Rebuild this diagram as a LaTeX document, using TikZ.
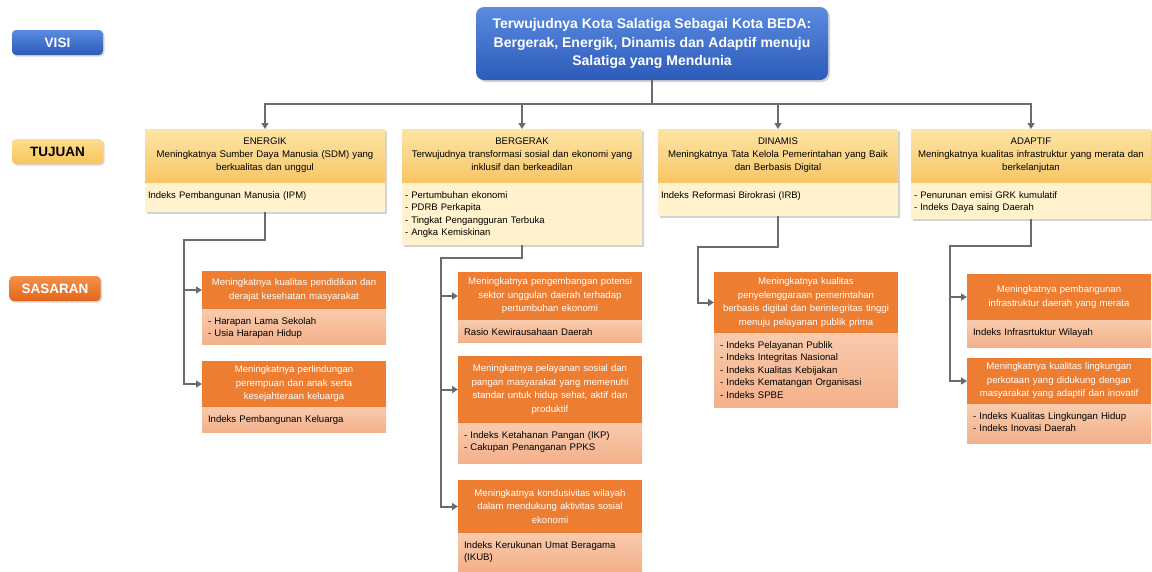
\documentclass[tikz,border=0pt]{standalone}
\usepackage{fontspec}
\setmainfont{Liberation Sans}
\usetikzlibrary{positioning,shadows,arrows.meta}

\definecolor{visibot}{HTML}{2C5BBA}
\definecolor{visitop}{HTML}{5A8BE0}
\definecolor{tjtop}{HTML}{FDE4A6}
\definecolor{tjbot}{HTML}{F8C666}
\definecolor{tjlbltop}{HTML}{FDDD8E}
\definecolor{tjlblbot}{HTML}{F9C45C}
\definecolor{tjfill}{HTML}{FFF2CC}
\definecolor{ssorange}{HTML}{ED7D31}
\definecolor{sstop}{HTML}{F4914B}
\definecolor{ssbot}{HTML}{E2661B}
\definecolor{ssbodytop}{HTML}{F8CBAD}
\definecolor{ssbodybot}{HTML}{F4B08A}
\definecolor{linegray}{HTML}{6B6B6B}

\begin{document}
\begin{tikzpicture}[x=1pt,y=-1pt,
    every node/.style={outer sep=0pt,inner sep=0pt},
    lbl/.style={rounded corners=4pt,minimum width=91pt,minimum height=25pt,
      font=\fontsize{13.5}{16}\selectfont\bfseries,
      drop shadow={shadow xshift=1.5pt,shadow yshift=-1.5pt,opacity=.3}},
    tjhead/.style={anchor=north west,top color=tjtop,bottom color=tjbot,
      minimum height=54pt,text width=234pt,inner xsep=3pt,align=center,
      font=\fontsize{9.6}{13}\selectfont,
      drop shadow={shadow xshift=2pt,shadow yshift=-2pt,opacity=.35}},
    tjbody/.style={fill=tjfill,text width=234pt,inner xsep=3pt,inner ysep=4pt,
      text height=11pt,align=left,font=\fontsize{9.5}{12.5}\selectfont,
      drop shadow={shadow xshift=2pt,shadow yshift=-2pt,opacity=.35}},
    sshead/.style={anchor=north west,fill=ssorange,text=white,text width=172pt,
      inner xsep=6pt,align=center,font=\fontsize{9.6}{13.5}\selectfont},
    ssbody/.style={top color=ssbodytop,bottom color=ssbodybot,text width=172pt,
      inner xsep=6pt,inner ysep=4pt,text height=11pt,align=left,
      font=\fontsize{9.6}{12.5}\selectfont},
    conn/.style={draw=linegray,line width=2pt,-{Triangle[length=6pt,width=7pt]}}
  ]
  \useasboundingbox (0,0) rectangle (1152,571);

  % row labels
  \node[lbl,top color=visitop,bottom color=visibot,text=white] (visilbl) at (57.5,42.5) {VISI};
  \node[lbl,top color=tjlbltop,bottom color=tjlblbot] (tujuanlbl) at (57.5,151.5) {TUJUAN};
  \node[lbl,top color=sstop,bottom color=ssbot,text=white] (sasaranlbl) at (55,288.5) {SASARAN};

  \node[rounded corners=8pt,top color=visitop,bottom color=visibot,minimum width=352pt,
    minimum height=73pt,text=white,align=center,font=\fontsize{14}{18.5}\selectfont\bfseries,
    drop shadow={shadow xshift=2pt,shadow yshift=-2pt,opacity=.35}] (visi) at (652,43.5)
    {Terwujudnya Kota Salatiga Sebagai Kota BEDA:\\Bergerak, Energik, Dinamis dan Adaptif menuju\\Salatiga yang Mendunia};

  % tujuan
  \node[tjhead,text depth=30pt] (energik) at (145,129) {ENERGIK\\Meningkatnya Sumber Daya Manusia (SDM) yang\\berkualitas dan unggul};
  \node[tjbody,below=0pt of energik,text depth=10pt] (energikb) {Indeks Pembangunan Manusia (IPM)};
  \node[tjhead,text depth=30pt] (bergerak) at (402,129) {BERGERAK\\Terwujudnya transformasi sosial dan ekonomi yang\\inklusif dan berkeadilan};
  \node[tjbody,below=0pt of bergerak,text depth=43pt] (bergerakb) {- Pertumbuhan ekonomi\\- PDRB Perkapita\\- Tingkat Pengangguran Terbuka\\- Angka Kemiskinan};
  \node[tjhead,text depth=30pt] (dinamis) at (658,129) {DINAMIS\\Meningkatnya Tata Kelola Pemerintahan yang Baik\\dan Berbasis Digital};
  \node[tjbody,below=0pt of dinamis,text depth=14pt] (dinamisb) {Indeks Reformasi Birokrasi (IRB)};
  \node[tjhead,text depth=30pt] (adaptif) at (911,129) {ADAPTIF\\Meningkatnya kualitas infrastruktur yang merata dan\\berkelanjutan};
  \node[tjbody,below=0pt of adaptif,text depth=17pt] (adaptifb) {- Penurunan emisi GRK kumulatif\\- Indeks Daya saing Daerah};

  % sasaran
  \node[sshead,minimum height=38pt] (s11) at (202,271) {Meningkatnya kualitas pendidikan dan\\derajat kesehatan masyarakat};
  \node[ssbody,below=0pt of s11,text depth=16pt] (s11b) {- Harapan Lama Sekolah\\- Usia Harapan Hidup};
  \node[sshead,minimum height=46pt] (s12) at (202,361) {Meningkatnya perlindungan\\perempuan dan anak serta\\kesejahteraan keluarga};
  \node[ssbody,below=0pt of s12,text depth=6pt] (s12b) {Indeks Pembangunan Keluarga};

  \node[sshead,minimum height=48pt] (s21) at (458,272) {Meningkatnya pengembangan potensi\\sektor unggulan daerah terhadap\\pertumbuhan ekonomi};
  \node[ssbody,below=0pt of s21,text depth=3pt] (s21b) {Rasio Kewirausahaan Daerah};
  \node[sshead,minimum height=67pt] (s22) at (458,356) {Meningkatnya pelayanan sosial dan\\pangan masyarakat yang memenuhi\\standar untuk hidup sehat, aktif dan\\produktif};
  \node[ssbody,below=0pt of s22,text depth=21pt] (s22b) {- Indeks Ketahanan Pangan (IKP)\\- Cakupan Penanganan PPKS};
  \node[sshead,minimum height=53pt] (s23) at (458,480) {Meningkatnya kondusivitas wilayah\\dalam mendukung aktivitas sosial\\ekonomi};
  \node[ssbody,below=0pt of s23,text depth=19pt] (s23b) {Indeks Kerukunan Umat Beragama\\(IKUB)};

  \node[sshead,minimum height=61pt] (s31) at (714,272) {Meningkatnya kualitas\\penyelenggaraan pemerintahan\\berbasis digital dan berintegritas tinggi\\menuju pelayanan publik prima};
  \node[ssbody,below=0pt of s31,text depth=55pt] (s31b) {- Indeks Pelayanan Publik\\- Indeks Integritas Nasional\\- Indeks Kualitas Kebijakan\\- Indeks Kematangan Organisasi\\- Indeks SPBE};

  \node[sshead,minimum height=46pt] (s41) at (967,274) {Meningkatnya pembangunan\\infrastruktur daerah yang merata};
  \node[ssbody,below=0pt of s41,text depth=8pt] (s41b) {Indeks Infrasrtuktur Wilayah};
  \node[sshead,minimum height=46pt] (s42) at (967,358) {Meningkatnya kualitas lingkungan\\perkotaan yang didukung dengan\\masyarakat yang adaptif dan inovatif};
  \node[ssbody,below=0pt of s42,text depth=20pt] (s42b) {- Indeks Kualitas Lingkungan Hidup\\- Indeks Inovasi Daerah};

  % connectors
  \draw[conn] (visi.south) -- ++(0,24) -| (energik.north);
  \draw[conn] (visi.south) -- ++(0,24) -| (bergerak.north);
  \draw[conn] (visi.south) -- ++(0,24) -| (dinamis.north);
  \draw[conn] (visi.south) -- ++(0,24) -| (adaptif.north);

  \coordinate (c1) at (184,240);
  \coordinate (c2) at (441,258);
  \coordinate (c3) at (698,247);
  \coordinate (c4) at (950,246);
  \draw[conn] (energikb.south) |- (c1) |- (s11.west);
  \draw[conn] (c1) |- (s12.west);
  \draw[conn] (bergerakb.south) |- (c2) |- (s21.west);
  \draw[conn] (c2) |- (s22.west);
  \draw[conn] (c2) |- (s23.west);
  \draw[conn] (dinamisb.south) |- (c3) |- (s31.west);
  \draw[conn] (adaptifb.south) |- (c4) |- (s41.west);
  \draw[conn] (c4) |- (s42.west);
\end{tikzpicture}
\end{document}
